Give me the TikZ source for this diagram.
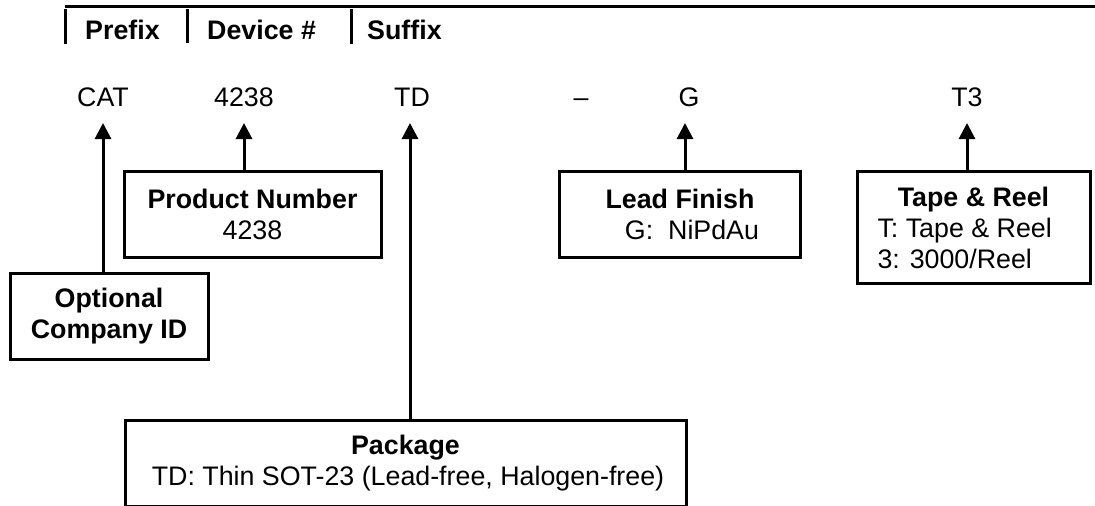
\documentclass[tikz,border=0pt]{standalone}
\usepackage{fontspec}
\setmainfont{Liberation Sans}
\usetikzlibrary{arrows.meta}
\tikzset{
  x=1pt,y=-1pt,
  box/.style={draw=black,line width=3pt,fill=white,inner sep=0pt,align=center,
    font=\fontsize{26.8}{31}\selectfont},
  code/.style={anchor=base,inner sep=0pt,font=\fontsize{26.8}{31}\selectfont},
  head/.style={anchor=base west,inner sep=0pt,font=\fontsize{26.8}{31}\selectfont\bfseries},
  arr/.style={line width=3pt,-{Triangle[length=16pt,width=16pt]}},
  rule/.style={line width=3pt}
}
\begin{document}
\begin{tikzpicture}
\useasboundingbox (0,0) rectangle (1095,506);
% header rule
\coordinate (ruleL) at (65,6);
\coordinate (ruleR) at (1095,6);
\coordinate (t1) at (65,9);
\coordinate (t2) at (187,9);
\coordinate (t3) at (351,9);
\coordinate (b1) at (65,44);
\coordinate (b2) at (187,43);
\coordinate (b3) at (351,44);
\draw[rule] (ruleL) -- (ruleR);
\draw[rule] (t1) -- (b1);
\draw[rule] (t2) -- (b2);
\draw[rule] (t3) -- (b3);
\node[head] (hprefix) at (85,39) {Prefix};
\node[head] (hdevice) at (207,39) {Device \#};
\node[head] (hsuffix) at (367,39) {Suffix};
% code letters
\node[code] (cat) at (103,106) {CAT};
\node[code] (num) at (244,106) {4238};
\node[code] (td) at (412,106) {TD};
\node[code] (dash) at (581,106) {–};
\node[code] (g) at (689,106) {G};
\node[code] (t3code) at (967,106) {T3};
% boxes
\node[box,minimum width=198pt,minimum height=86pt] (company) at (109,316)
  {\textbf{Optional}\\\textbf{Company ID}};
\node[box,minimum width=257pt,minimum height=86pt] (product) at (252.5,214)
  {\textbf{Product Number}\\4238};
\node[box,minimum width=561pt,minimum height=86pt] (package) at (405.5,463)
  {\textbf{Package}\\\hspace*{5pt}TD: Thin SOT-23 (Lead-free, Halogen-free)};
\node[box,minimum width=241pt,minimum height=86pt] (lead) at (680,214)
  {\textbf{Lead Finish}\\\hspace*{24pt}G:\ \ NiPdAu};
\node[box,minimum width=233pt,minimum height=112pt] (tape) at (973.5,227.5)
  {\textbf{Tape \& Reel}\\\makebox[190pt][l]{\hspace*{-1pt}T: Tape \& Reel}\\\makebox[190pt][l]{\hspace*{-1pt}3: 3000/Reel}};
% arrow tips
\coordinate (acat) at (103,123);
\coordinate (anum) at (244,123);
\coordinate (atd) at (410,123);
\coordinate (ag) at (685,123);
\coordinate (at3) at (967,123);
\draw[arr] (company.north -| acat) -- (acat);
\draw[arr] (product.north -| anum) -- (anum);
\draw[arr] (package.north -| atd) -- (atd);
\draw[arr] (lead.north -| ag) -- (ag);
\draw[arr] (tape.north -| at3) -- (at3);
\end{tikzpicture}
\end{document}
